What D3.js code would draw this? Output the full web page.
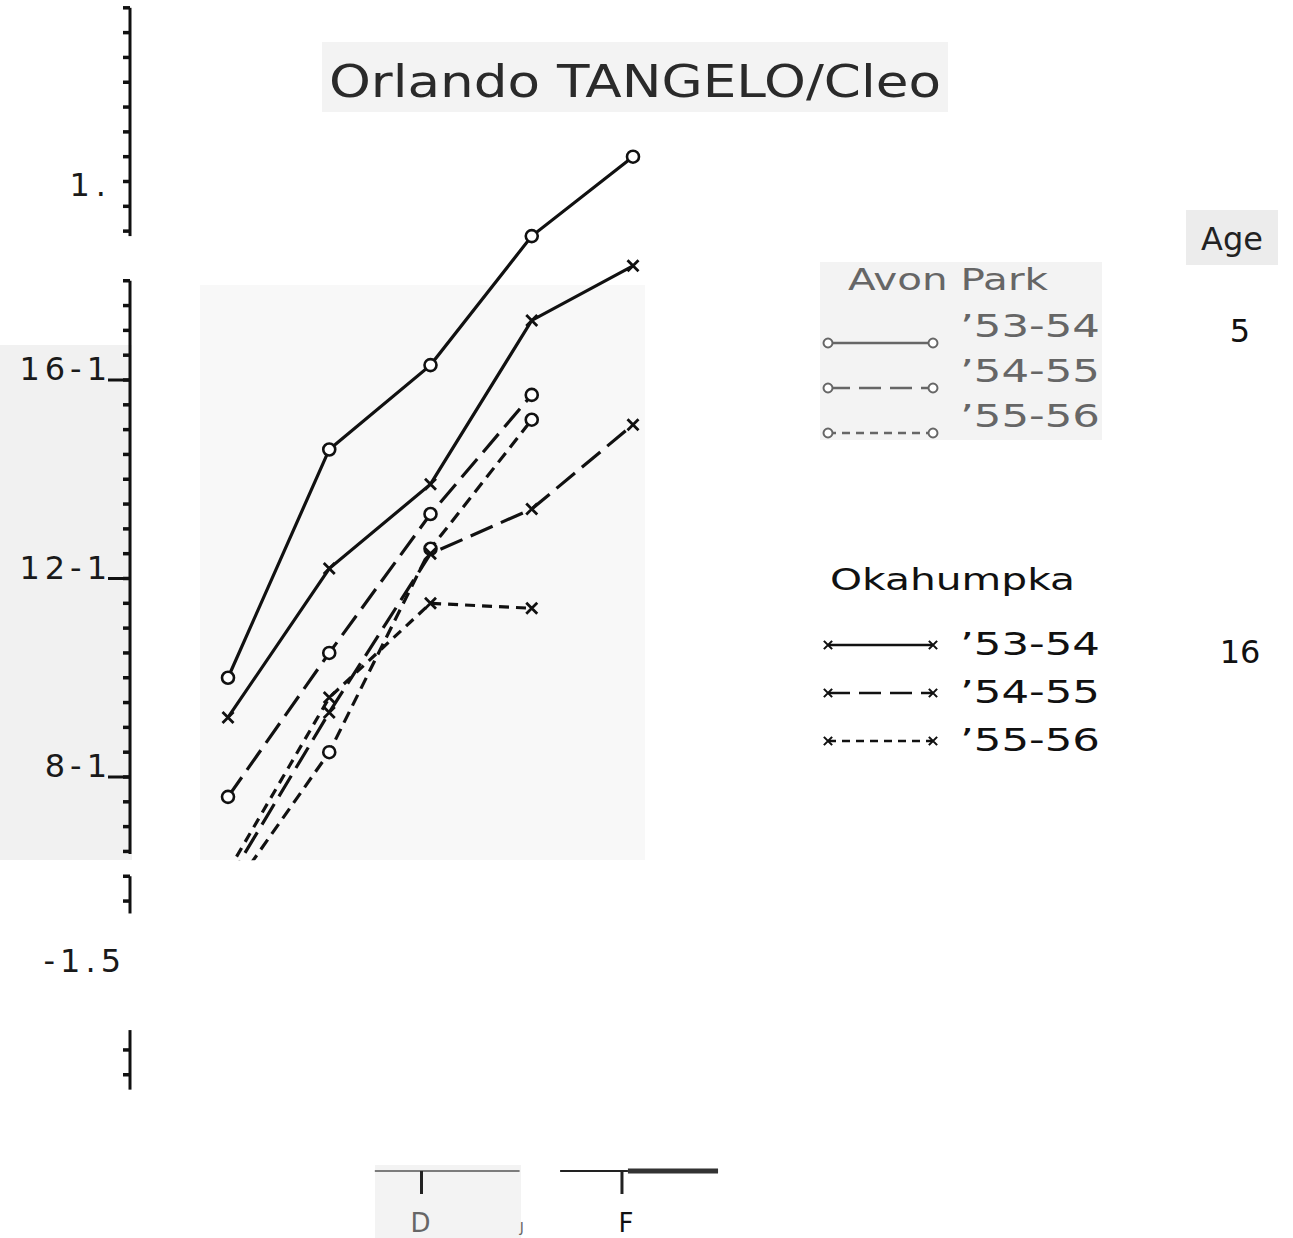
<!DOCTYPE html>
<html>
<head>
<meta charset="utf-8">
<title>Orlando TANGELO/Cleo</title>
<script src="https://cdn.jsdelivr.net/npm/d3@7"></script>
<style>
  body { margin: 0; background: #fff; }
  text { font-family: "DejaVu Sans", sans-serif; }
</style>
</head>
<body>
<script>
// months along the bottom, only the last three labels survive on the sheet
var months = ["Oct", "Nov", "Dec", "Jan", "Feb"];
var monthLabels = ["", "", "D", "J", "F"];

// left axis
var yTicks = [20, 16, 12, 8, 4];
var yTickLabels = ["1.", "16-1", "12-1", "8-1", "-1.5"];

// Avon Park, age 5 (open circles)
var avon5354 = [10.0, 14.6, 16.3, 18.9, 20.5];
var avon5455 = [7.6, 10.5, 13.3, 15.7];
var avon5556 = [5.6, 8.5, 12.6, 15.2];

// Okahumpka, age 16 (crosses)
var oka5354 = [9.2, 12.2, 13.9, 17.2, 18.3];
var oka5455 = [5.9, 9.3, 12.5, 13.4, 15.1];
var oka5556 = [6.1, 9.6, 11.5, 11.4];

var seasons = ["53-54", "54-55", "55-56"];
var ages = ["5", "16"];

var W = 1293, H = 1238;
var svg = d3.select("body").append("svg").attr("width", W).attr("height", H);

// faint grey patches left by the photocopy
var paper = svg.append("g").attr("fill", "#f3f3f3");
paper.append("rect").attr("x", 322).attr("y", 42).attr("width", 626).attr("height", 70);
paper.append("rect").attr("x", 0).attr("y", 345).attr("width", 132).attr("height", 515).attr("fill", "#f1f1f1");
paper.append("rect").attr("x", 200).attr("y", 285).attr("width", 445).attr("height", 575).attr("fill", "#f8f8f8");
paper.append("rect").attr("x", 820).attr("y", 262).attr("width", 282).attr("height", 178);
paper.append("rect").attr("x", 1186).attr("y", 210).attr("width", 92).attr("height", 55).attr("fill", "#ececec");
paper.append("rect").attr("x", 375).attr("y", 1165).attr("width", 146).attr("height", 73);

var x = d3.scaleLinear().domain([0, months.length - 1]).range([228, 633]);
var y = d3.scaleLinear().domain([4, 20]).range([975.5, 181.5]);

// title
svg.append("text")
  .attr("x", 635).attr("y", 97)
  .attr("text-anchor", "middle")
  .attr("font-size", 44)
  .attr("fill", "#2a2a2a")
  .attr("textLength", 612).attr("lengthAdjust", "spacingAndGlyphs")
  .text("Orlando TANGELO/Cleo");

// y axis, drawn in the broken pieces that show on the copy
var axisX = 130;
var axisPieces = [[23.5, 18.9], [18.0, 6.45], [6.0, 5.25], [2.9, 1.7]];
var axis = svg.append("g").attr("stroke", "#111");
axis.selectAll("line.dom").data(axisPieces).enter().append("line")
  .attr("class", "dom")
  .attr("x1", axisX).attr("x2", axisX)
  .attr("y1", function(d){ return y(d[0]); })
  .attr("y2", function(d){ return y(d[1]); })
  .attr("stroke-width", 3);

var minor = d3.range(2, 23.6, 0.5).filter(function(v){
  return axisPieces.some(function(p){ return v <= p[0] && v >= p[1]; });
});
axis.selectAll("line.minor").data(minor).enter().append("line")
  .attr("class", "minor")
  .attr("x1", axisX - 7).attr("x2", axisX)
  .attr("y1", function(d){ return y(d); })
  .attr("y2", function(d){ return y(d); })
  .attr("stroke-width", 3.5);

axis.selectAll("line.major").data(yTicks.slice(1, 4)).enter().append("line")
  .attr("class", "major")
  .attr("x1", axisX - 22).attr("x2", axisX)
  .attr("y1", function(d){ return y(d); })
  .attr("y2", function(d){ return y(d); })
  .attr("stroke-width", 3);

svg.selectAll("text.ylab").data(yTicks).enter().append("text")
  .attr("class", "ylab")
  .attr("x", function(d, i){ return i == 4 ? 126 : 112; })
  .attr("y", function(d, i){ return y(d) - (i == 0 ? -14 : 0) - (i == 4 ? 4 : 0); })
  .attr("text-anchor", "end")
  .attr("font-size", 32)
  .attr("fill", "#1a1a1a")
  .attr("letter-spacing", function(d, i){ return i == 0 ? 6 : 5; })
  .text(function(d, i){ return yTickLabels[i]; });

// bottom axis fragments
var xPieces = [[1.45, 2.88, 1.5, "#555"], [3.28, 3.95, 2, "#222"], [3.95, 4.84, 5, "#333"]];
svg.selectAll("line.xdom").data(xPieces).enter().append("line")
  .attr("x1", function(d){ return x(d[0]); })
  .attr("x2", function(d){ return x(d[1]); })
  .attr("y1", 1171).attr("y2", 1171)
  .attr("stroke", function(d){ return d[3]; })
  .attr("stroke-width", function(d){ return d[2]; });
svg.selectAll("line.xtick").data([2, 3.98]).enter().append("line")
  .attr("x1", function(d){ return x(d) - 9; })
  .attr("x2", function(d){ return x(d) - 9; })
  .attr("y1", 1171).attr("y2", 1194)
  .attr("stroke", "#222").attr("stroke-width", 3);
svg.selectAll("text.xlab").data(monthLabels).enter().append("text")
  .attr("x", function(d, i){ return x(i) - (i == 4 ? 7 : 10); })
  .attr("y", 1232)
  .attr("text-anchor", "middle")
  .attr("font-size", function(d, i){ return i == 3 ? 14 : 26; })
  .attr("fill", function(d, i){ return i == 4 ? "#111" : "#666"; })
  .text(function(d){ return d; });

// series
var series = [
  {vals: avon5354, dash: null, mark: "o"},
  {vals: avon5455, dash: "24,9", mark: "o"},
  {vals: avon5556, dash: "12,7", mark: "o"},
  {vals: oka5354, dash: null, mark: "x"},
  {vals: oka5455, dash: "24,9", mark: "x"},
  {vals: oka5556, dash: "10,7", mark: "x"}
];

svg.append("clipPath").attr("id", "plotclip").append("rect")
  .attr("x", 150).attr("y", y(23))
  .attr("width", 520).attr("height", y(6.32) - y(23));

var plot = svg.append("g").attr("clip-path", "url(#plotclip)");
var line = d3.line().x(function(d, i){ return x(i); }).y(function(d){ return y(d); });

plot.selectAll("path.series").data(series).enter().append("path")
  .attr("class", "series")
  .attr("d", function(s){ return line(s.vals); })
  .attr("fill", "none")
  .attr("stroke", "#111")
  .attr("stroke-width", 3.2)
  .attr("stroke-dasharray", function(s){ return s.dash; });

function drawMark(g, kind) {
  if (kind == "o") {
    g.append("circle").attr("r", 6).attr("fill", "#fff").attr("stroke", "#111").attr("stroke-width", 2.6);
  } else {
    g.append("path").attr("d", "M-5.5,-5.5L5.5,5.5M-5.5,5.5L5.5,-5.5").attr("stroke", "#111").attr("stroke-width", 2.8);
  }
}

series.forEach(function(s){
  s.vals.forEach(function(v, i){
    var g = plot.append("g").attr("transform", "translate(" + x(i) + "," + y(v) + ")");
    drawMark(g, s.mark);
  });
});

// legend
var leg = svg.append("g");
var groups = [
  {name: "Avon Park", nx: 848, ny: 290, top: 343, col: "#666", mark: "o", age: 0, ageY: 342},
  {name: "Okahumpka", nx: 830, ny: 590, top: 645, col: "#111", mark: "x", age: 1, ageY: 663}
];
var dashes = [null, "22,9", "8,6"];
var rowGap = [45, 48];

groups.forEach(function(gr, gi){
  leg.append("text")
    .attr("x", gr.nx).attr("y", gr.ny)
    .attr("font-size", 30)
    .attr("fill", gr.col)
    .attr("textLength", gi == 0 ? 200 : 245).attr("lengthAdjust", "spacingAndGlyphs")
    .text(gr.name);
  seasons.forEach(function(s, i){
    var ly = gr.top + i * rowGap[gi];
    leg.append("line")
      .attr("x1", 828).attr("x2", 933)
      .attr("y1", ly).attr("y2", ly)
      .attr("stroke", gr.col).attr("stroke-width", 2.4)
      .attr("stroke-dasharray", dashes[i]);
    [828, 933].forEach(function(mx){
      var g = leg.append("g").attr("transform", "translate(" + mx + "," + ly + ") scale(0.75)");
      drawMark(g, gr.mark);
      g.selectAll("*").attr("stroke", gr.col);
    });
    leg.append("text")
      .attr("x", 960).attr("y", ly + (gi == 0 ? -6 : 10))
      .attr("font-size", 32)
      .attr("fill", gr.col)
      .attr("textLength", 140).attr("lengthAdjust", "spacingAndGlyphs")
      .text("\u2019" + s);
  });
  svg.append("text")
    .attr("x", 1240).attr("y", gr.ageY)
    .attr("text-anchor", "middle")
    .attr("font-size", 32)
    .attr("fill", "#111")
    .text(ages[gr.age]);
});

svg.append("text")
  .attr("x", 1232).attr("y", 250)
  .attr("text-anchor", "middle")
  .attr("font-size", 32)
  .attr("fill", "#222")
  .text("Age");
</script>
</body>
</html>
